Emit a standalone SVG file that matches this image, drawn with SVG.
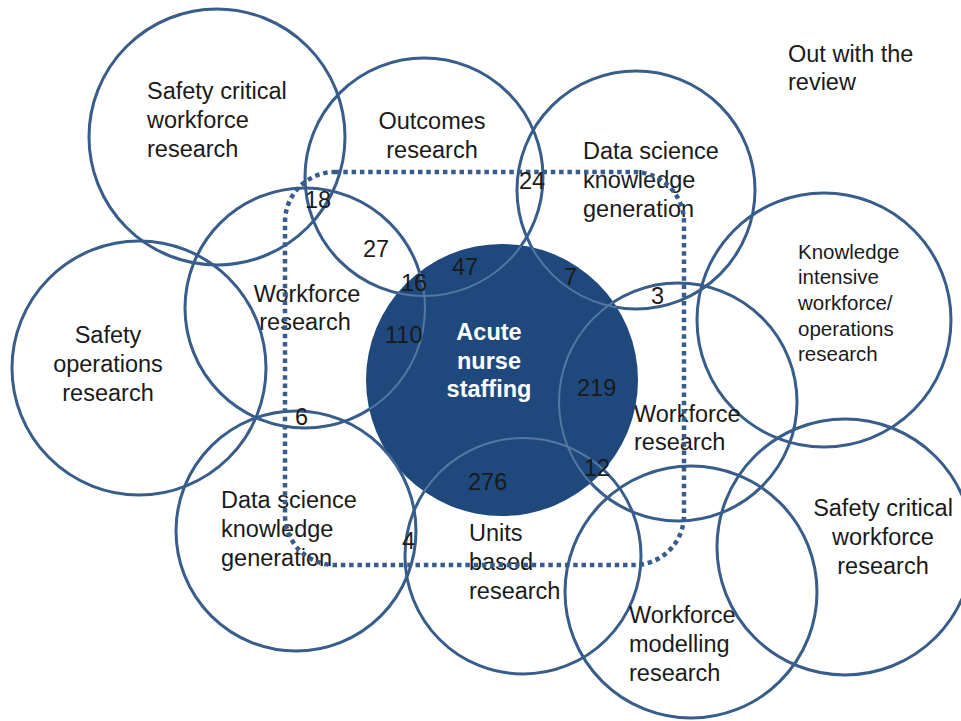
<svg xmlns="http://www.w3.org/2000/svg" width="961" height="721" viewBox="0 0 961 721">
<style>
.ring{fill:none;stroke:#385D8A;stroke-width:3}
.inner{fill:none;stroke:#5578a3;stroke-width:2}
.disc{fill:#1F497D}
text{font-family:"Liberation Sans",Arial,sans-serif;font-size:23.5px;fill:#1a1a1a}
.small{font-size:20.5px}
.mid{text-anchor:middle}
.center{fill:#ffffff;font-weight:bold;text-anchor:middle}
.boundary{fill:none;stroke:#385D8A;stroke-width:4.5;stroke-dasharray:4.5 3.8}
</style>
<defs>
<clipPath id="discClip"><circle cx="502" cy="380" r="136"/></clipPath>
</defs>
<rect width="961" height="721" fill="#ffffff"/>

<g id="safety-critical-workforce-1">
<circle class="ring" cx="217" cy="137" r="128"/>
<text x="147" y="99">Safety critical</text>
<text x="147" y="128">workforce</text>
<text x="147" y="157">research</text>
</g>
<g id="outcomes-research">
<circle class="ring" cx="424" cy="177" r="119"/>
<text class="mid" x="432" y="129">Outcomes</text>
<text class="mid" x="432" y="158">research</text>
</g>
<g id="data-science-1">
<circle class="ring" cx="636" cy="190" r="119"/>
<text x="583" y="159">Data science</text>
<text x="583" y="188">knowledge</text>
<text x="583" y="217">generation</text>
</g>
<g id="knowledge-intensive">
<circle class="ring" cx="824" cy="320" r="127"/>
<text class="small" x="798" y="259">Knowledge</text>
<text class="small" x="798" y="284">intensive</text>
<text class="small" x="798" y="310">workforce/</text>
<text class="small" x="798" y="336">operations</text>
<text class="small" x="798" y="361">research</text>
</g>
<g id="workforce-research-1">
<circle class="ring" cx="305" cy="308" r="120"/>
<text class="mid" x="307" y="302">Workforce</text>
<text class="mid" x="305" y="330">research</text>
</g>
<g id="safety-operations">
<circle class="ring" cx="139" cy="368" r="127"/>
<text class="mid" x="108" y="343">Safety</text>
<text class="mid" x="108" y="372">operations</text>
<text class="mid" x="108" y="401">research</text>
</g>
<g id="data-science-2">
<circle class="ring" cx="296" cy="531" r="120"/>
<text x="221" y="508">Data science</text>
<text x="221" y="537">knowledge</text>
<text x="221" y="566">generation</text>
</g>
<g id="units-based">
<circle class="ring" cx="523" cy="556" r="118"/>
<text x="469" y="541">Units</text>
<text x="469" y="570">based</text>
<text x="469" y="599">research</text>
</g>
<g id="workforce-research-2">
<circle class="ring" cx="678" cy="402" r="119"/>
<text x="634" y="422">Workforce</text>
<text x="634" y="450">research</text>
</g>
<g id="workforce-modelling">
<circle class="ring" cx="691" cy="592" r="126"/>
<text x="629" y="623">Workforce</text>
<text x="629" y="652">modelling</text>
<text x="629" y="681">research</text>
</g>
<g id="safety-critical-workforce-2">
<circle class="ring" cx="845" cy="547" r="128"/>
<text class="mid" x="883" y="516">Safety critical</text>
<text class="mid" x="883" y="545">workforce</text>
<text class="mid" x="883" y="574">research</text>
</g>

<g id="acute-nurse-staffing">
<circle class="disc" cx="502" cy="380" r="136"/>
<g clip-path="url(#discClip)">
<circle class="inner" cx="424" cy="177" r="119"/>
<circle class="inner" cx="636" cy="190" r="119"/>
<circle class="inner" cx="305" cy="308" r="120"/>
<circle class="inner" cx="296" cy="531" r="120"/>
<circle class="inner" cx="523" cy="556" r="118"/>
<circle class="inner" cx="678" cy="402" r="119"/>
</g>
<text class="center" x="489" y="340">Acute</text>
<text class="center" x="489" y="369">nurse</text>
<text class="center" x="489" y="397">staffing</text>
</g>

<g id="review-boundary">
<rect class="boundary" x="285" y="172" width="399" height="393" rx="50" ry="50"/>
</g>

<g id="out-with-review">
<text x="788" y="62">Out with the</text>
<text x="788" y="90">review</text>
</g>

<g id="counts">
<text x="305" y="208">18</text>
<text x="363" y="257">27</text>
<text x="452" y="275">47</text>
<text x="401" y="291">16</text>
<text x="519" y="189">24</text>
<text x="564" y="285">7</text>
<text x="651" y="304">3</text>
<text x="385" y="343">110</text>
<text x="577" y="396">219</text>
<text x="295" y="425">6</text>
<text x="584" y="476">12</text>
<text x="468" y="490">276</text>
<text x="402" y="549">4</text>
</g>
</svg>
